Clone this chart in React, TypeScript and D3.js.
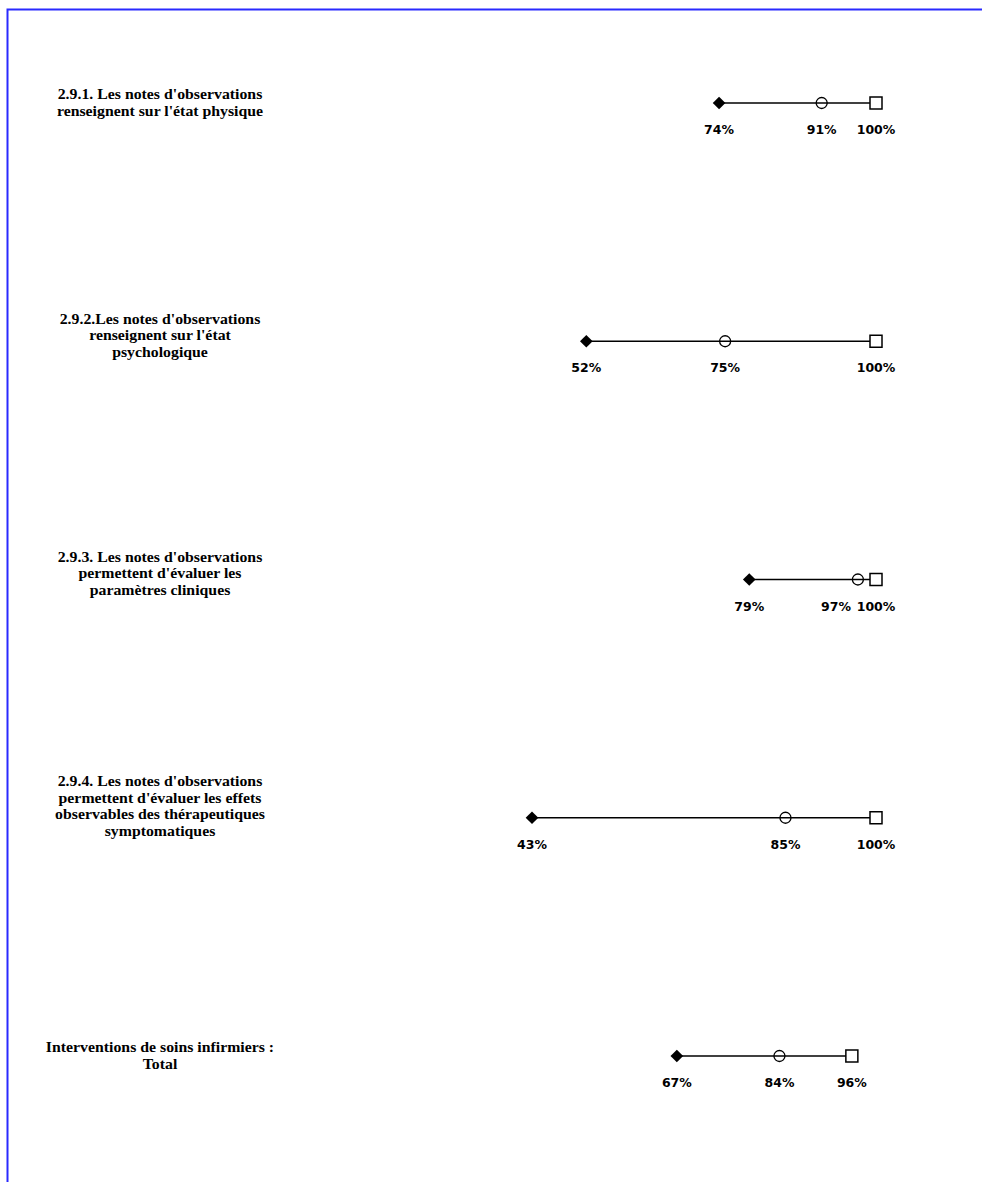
import React from "react";
import * as d3 from "d3";

const categories: string[][] = [
  ["2.9.1. Les notes d'observations", "renseignent sur l'état physique"],
  ["2.9.2.Les notes d'observations", "renseignent sur l'état", "psychologique"],
  ["2.9.3. Les notes d'observations", "permettent d'évaluer les", "paramètres cliniques"],
  ["2.9.4. Les notes d'observations", "permettent d'évaluer les effets", "observables des thérapeutiques", "symptomatiques"],
  ["Interventions de soins infirmiers :", "Total"],
];
const minValues = [74, 52, 79, 43, 67];
const midValues = [91, 75, 97, 85, 84];
const maxValues = [100, 100, 100, 100, 96];

const W = 982;
const H = 1182;

export default function App() {
  const x = d3.scaleLinear().domain([0, 100]).range([272.5, 876]);
  const y = d3
    .scalePoint<number>()
    .domain(categories.map((_, i) => i))
    .range([103, 1056]);
  const diamond = d3.symbol().type(d3.symbolSquare).size(80)() as string;
  const lineH = 16.5;
  const labelCx = 160;
  const sx = 1.13;
  return (
    <svg
      width={W}
      height={H}
      style={{ position: "absolute", left: 0, top: 0, background: "#fff" }}
    >
      <rect x={7.5} y={9.5} width={W} height={H} fill="none" stroke="#2a2aff" strokeWidth={2} />
      {categories.map((lines, i) => {
        const cy = y(i) as number;
        const n = lines.length;
        const top = cy - 8 - (n - 2) * 14;
        const x0 = x(minValues[i]);
        const x1 = x(midValues[i]);
        const x2 = x(maxValues[i]);
        // avoid overlap of mid and max value labels
        const midLabelX = x2 - x1 < 40 ? x2 - 40 : x1;
        return (
          <g key={i}>
            <g transform={`translate(${labelCx},0) scale(${sx},1)`}>
              <text
                fontFamily="'Liberation Serif', 'Times New Roman', serif"
                fontWeight="bold"
                fontSize={14}
                textAnchor="middle"
                fill="#000"
              >
                {lines.map((l, j) => (
                  <tspan key={j} x={0} y={top + j * lineH + 4.5}>
                    {l}
                  </tspan>
                ))}
              </text>
            </g>
            <line x1={x0} x2={x2} y1={cy} y2={cy} stroke="#000" strokeWidth={1.5} />
            <path d={diamond} transform={`translate(${x0},${cy}) rotate(45)`} fill="#000" />
            <circle cx={x1} cy={cy} r={5.5} fill="none" stroke="#000" strokeWidth={1.3} />
            <rect x={x2 - 6} y={cy - 6} width={12} height={12} fill="#fff" stroke="#000" strokeWidth={1.5} />
            {[
              [x0, minValues[i]],
              [midLabelX, midValues[i]],
              [x2, maxValues[i]],
            ].map(([px, v], k) => (
              <text
                key={k}
                x={px}
                y={cy + 31}
                textAnchor="middle"
                fontFamily="'DejaVu Sans', Verdana, sans-serif"
                fontWeight="bold"
                fontSize={12.5}
                fill="#000"
              >
                {v}%
              </text>
            ))}
          </g>
        );
      })}
    </svg>
  );
}
